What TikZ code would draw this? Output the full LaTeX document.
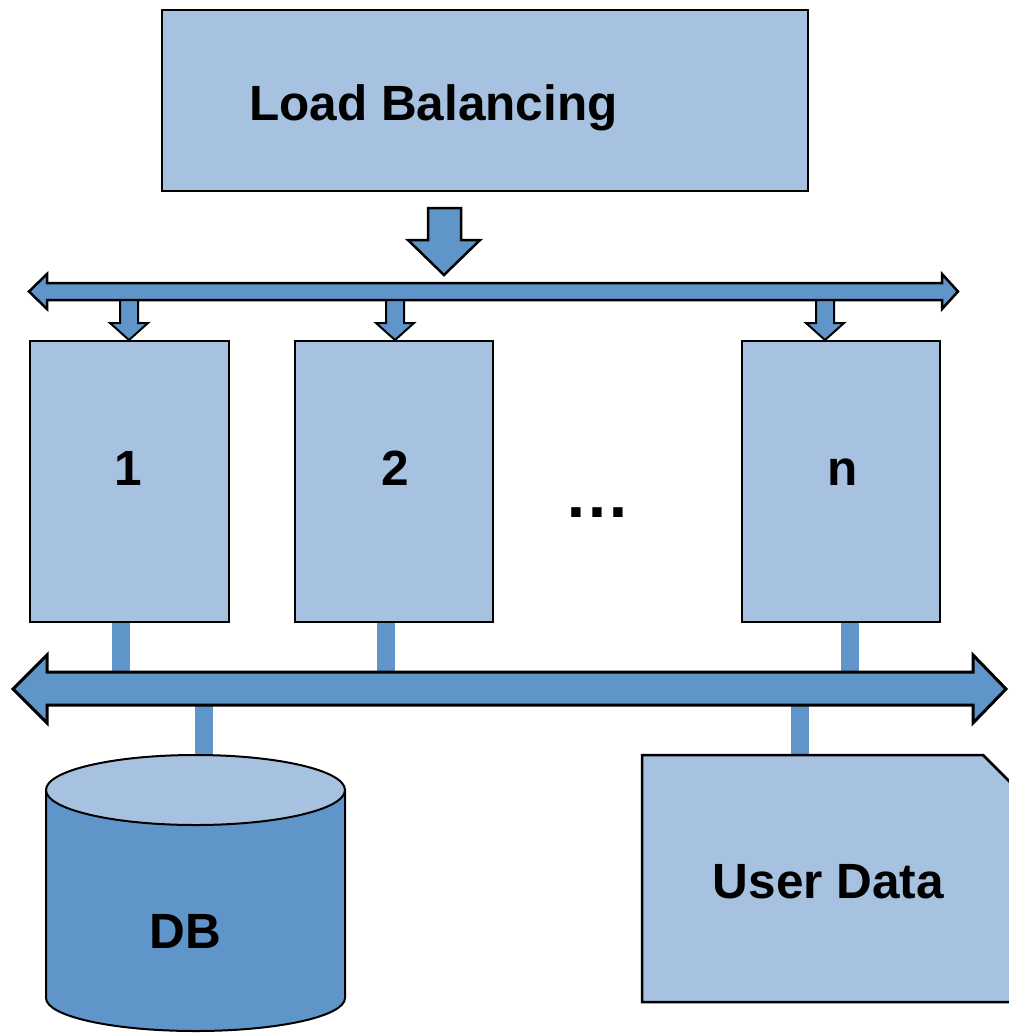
\documentclass[tikz,border=0pt]{standalone}
\usepackage{fontspec}
\setmainfont{Liberation Sans}
\definecolor{lightblue}{RGB}{167,193,224}
\definecolor{darkblue}{RGB}{95,149,200}
\begin{document}
\begin{tikzpicture}[x=1pt,y=-1pt,
  box/.style={draw=black, line width=2pt, fill=lightblue, inner sep=0pt},
  lbl/.style={font=\fontsize{49.5}{54}\selectfont\bfseries, inner sep=0pt, anchor=base},
  blk/.style={draw=black, line width=2.5pt, fill=darkblue, line join=miter},
  bar/.style={draw=darkblue, line width=18pt}]
\useasboundingbox (0,0) rectangle (1009,1034);
% Load balancing box
\node[box, minimum width=646pt, minimum height=181pt] (lb) at (485,100.5) {};
\node[lbl] (lbt) at (433.5,120) {Load Balancing};
% big arrow from load balancing to bus
\draw[blk] (428,208) -- (461,208) -- (461,240) -- (480,240) -- (444,275) -- (408,240) -- (428,240) -- cycle;
% top bus
\draw[blk] (29,291.5) -- (47,274) -- (47,283) -- (942,283) -- (942,274) -- (958,291.5) -- (942,309) -- (942,300) -- (47,300) -- (47,309) -- cycle;
% servers
\node[box, minimum width=199pt, minimum height=281pt] (s1) at (129.5,481.5) {};
\node[box, minimum width=198pt, minimum height=281pt] (s2) at (394,481.5) {};
\node[box, minimum width=198pt, minimum height=281pt] (sn) at (841,481.5) {};
\node[lbl] (t1) at (128,485) {1};
\node[lbl] (t2) at (395,485) {2};
\node[lbl] (tn) at (843,485) {n};
\node[lbl, font=\fontsize{66}{70}\selectfont\bfseries] (dots) at (597,517) {…};
% small arrows from bus to servers
\foreach \c in {129,395,825}{
  \draw[blk, line width=2pt] (\c-9,300) -- (\c+9,300) -- (\c+9,323) -- (\c+19,323) -- (\c,340) -- (\c-19,323) -- (\c-9,323) -- cycle;
}
% bars from servers to bottom bus
\coordinate (b1) at (121,672);
\coordinate (b2) at (386,672);
\coordinate (bn) at (850,672);
\draw[bar] ([xshift=-8.5pt]s1.south) -- (b1);
\draw[bar] ([xshift=-8pt]s2.south) -- (b2);
\draw[bar] ([xshift=9pt]sn.south) -- (bn);
% bars from bottom bus to DB and user data
\coordinate (dbtop) at (204,757);
\coordinate (udtop) at (800,756);
\draw[bar] (204,705) -- (dbtop);
\draw[bar] (800,705) -- (udtop);
% bottom bus
\draw[blk, line width=3pt] (13,689) -- (47,655) -- (47,672) -- (973,672) -- (973,655) -- (1006,689) -- (973,723) -- (973,705) -- (47,705) -- (47,723) -- cycle;
% DB cylinder
\draw[draw=black, line width=2pt, fill=darkblue] (46,790) -- (46,998) arc[start angle=180, end angle=0, x radius=149.5, y radius=33] -- (345,790) -- cycle;
\draw[draw=black, line width=2pt, fill=lightblue] (195.5,790) ellipse[x radius=149.5, y radius=35];
\node[lbl] (dbt) at (185.5,948) {DB};
% user data
\begin{scope}
\clip (0,0) rectangle (1009,1034);
\draw[draw=black, line width=2.5pt, fill=lightblue, line join=miter] (642,755) -- (983,755) -- (1030,802) -- (1030,1002) -- (642,1002) -- cycle;
\end{scope}
\node[lbl] (udt) at (828.5,898) {User Data};
\end{tikzpicture}
\end{document}
